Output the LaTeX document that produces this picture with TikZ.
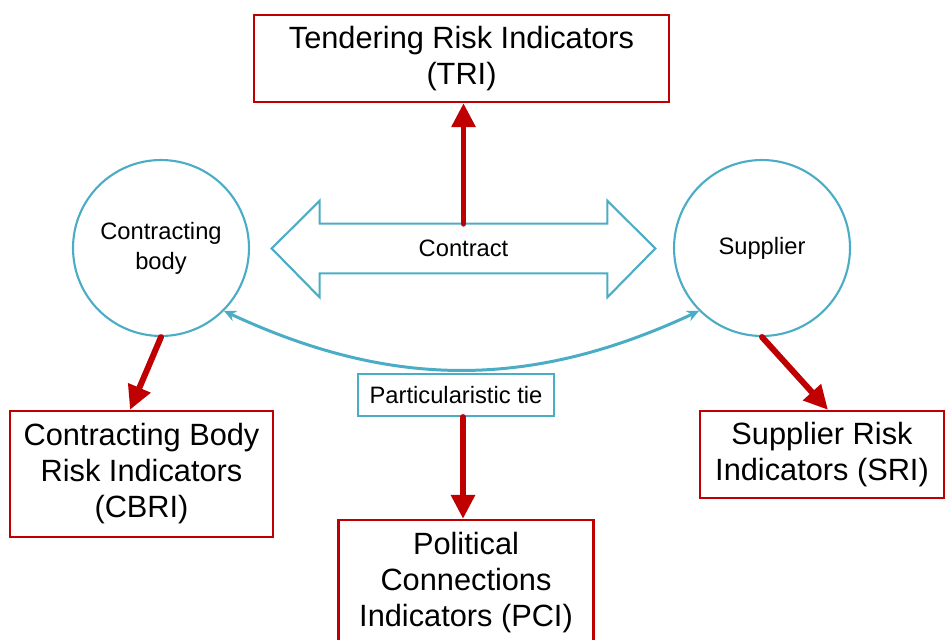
\documentclass[tikz,border=0pt]{standalone}
\usepackage{fontspec}
\setmainfont{Liberation Sans}
\usetikzlibrary{arrows.meta,positioning,calc}
\definecolor{RiskRed}{HTML}{C00000}
\definecolor{Aqua}{HTML}{4BACC6}

\begin{document}
\begin{tikzpicture}[x=0.02cm,y=-0.02cm]
  \tikzstyle{riskbox}=[draw=RiskRed,line width=1.3pt,align=center,inner sep=0pt,font=\fontsize{17.5}{20.5}\selectfont]
  \tikzstyle{party}=[draw=Aqua,line width=1.2pt,circle,minimum size=3.52cm,align=center,font=\fontsize{13.5}{17}\selectfont]
  \tikzstyle{small}=[align=center,inner sep=0pt,font=\fontsize{13.5}{17}\selectfont]
  \tikzstyle{link}=[draw=RiskRed,line width=3.4pt,line cap=round,-{Triangle[length=0.48cm,width=0.46cm]}]
  \clip (0,0) rectangle (945,639);
  % the two parties
  \node[party] (body) at (161,248) {Contracting\\body};
  \node[party] (sup)  at (762,248) {Supplier};
  % the contract between them
  \node[small,minimum width=5.74cm,minimum height=0.98cm] (contract) at (463.5,248.5) {Contract};
  \draw[Aqua,line width=1.2pt,line join=miter]
    (contract.north west) -- (contract.north east) -- ++(0,0.46cm)
    -- ([xshift=0.96cm]contract.east) -- ([yshift=-0.48cm]contract.south east)
    -- (contract.south east) -- (contract.south west) -- ++(0,-0.48cm)
    -- ([xshift=-0.96cm]contract.west) -- ([yshift=0.46cm]contract.north west) -- cycle;
  \draw[Aqua,line width=1.7pt,{Stealth[length=0.24cm,width=0.22cm]}-{Stealth[length=0.24cm,width=0.22cm]}]
    (body.-45) to[out=-25,in=-155] (sup.-135);
  \node[small,draw=Aqua,line width=1.2pt,minimum width=3.92cm,minimum height=0.84cm] (tie) at (456,395) {Particularistic tie};
  % indicators
  \node[riskbox,minimum width=8.3cm,minimum height=1.74cm] (tri) at (461.5,58.5) {Tendering Risk Indicators\\(TRI)};
  \node[riskbox,minimum width=5.26cm,minimum height=2.52cm] (cbri) at (141.5,474) {Contracting Body\\Risk Indicators\\(CBRI)};
  \node[riskbox,minimum width=4.88cm,minimum height=1.74cm] (sri) at (822,454.5) {Supplier Risk\\Indicators (SRI)};
  \node[riskbox,minimum width=5.1cm,minimum height=2.52cm] (pci) at (466,583) {Political\\Connections\\Indicators (PCI)};
  \draw[link] (contract.north) -- (contract.north |- tri.south);
  \draw[link] (body.south) -- ([xshift=-0.23cm]cbri.north);
  \draw[link] (sup.south) -- ([xshift=0.12cm]sri.north);
  \draw[link] ([xshift=0.14cm]tie.south) -- ([xshift=0.14cm]tie.south |- pci.north);
\end{tikzpicture}
\end{document}
